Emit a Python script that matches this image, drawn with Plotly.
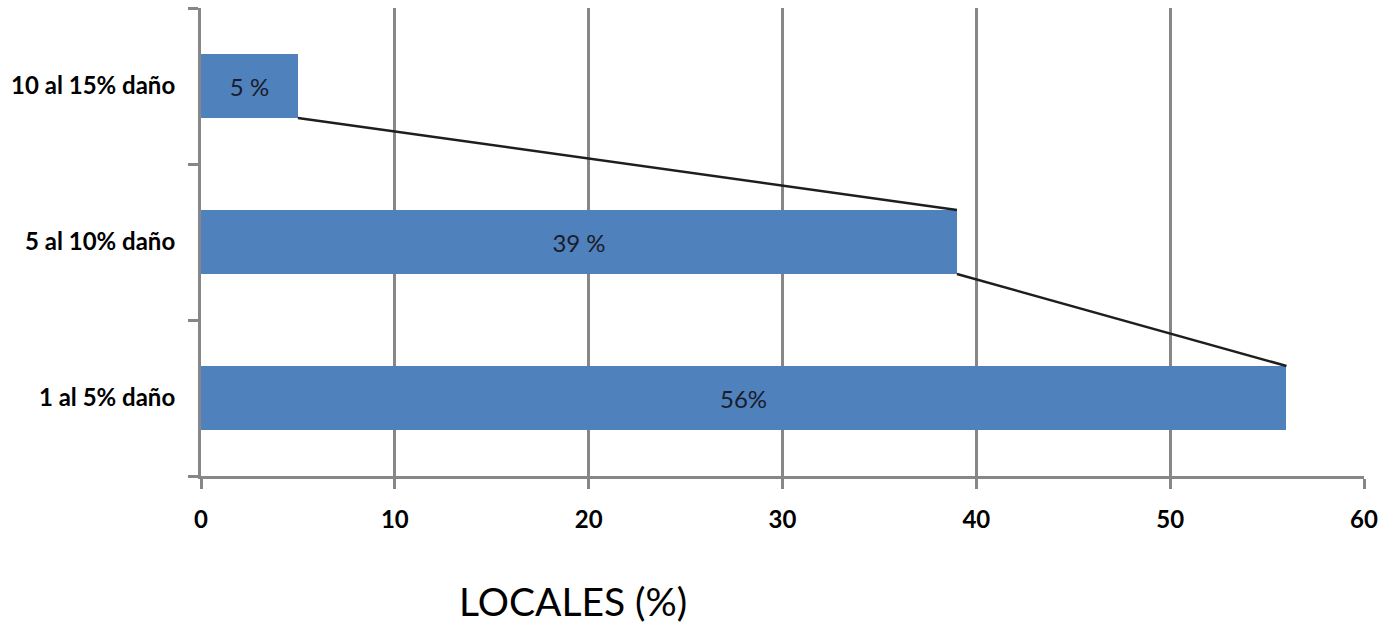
import plotly.graph_objects as go

# Damage ranges (bottom to top) and share of premises in each
categories = ["1 al 5% daño", "5 al 10% daño", "10 al 15% daño"]
values = [56, 39, 5]
value_labels = ["56%", "39 %", "5 %"]
x_ticks = [0, 10, 20, 30, 40, 50, 60]

BAR_COLOR = "#4F81BD"
GRID = "#878787"
BAR_W = 0.41

pos = list(range(len(categories)))

fig = go.Figure()
fig.add_trace(go.Bar(
    x=values, y=pos, orientation="h", width=BAR_W,
    marker=dict(color=BAR_COLOR, line=dict(width=0)),
    text=value_labels, textposition="inside", insidetextanchor="middle",
    textfont=dict(family="Lato", size=24, color="#1b1b2a"),
    hoverinfo="skip", showlegend=False,
))

# Series lines joining the end of each bar to the end of the next one down
sx, sy = [], []
for i in range(len(values) - 1, 0, -1):
    sx += [values[i], values[i - 1], None]
    sy += [pos[i] - BAR_W / 2, pos[i - 1] + BAR_W / 2, None]
fig.add_trace(go.Scatter(
    x=sx, y=sy, mode="lines", line=dict(color="#1e1e1e", width=2.5),
    hoverinfo="skip", showlegend=False,
))

fig.update_layout(
    width=1379, height=627,
    margin=dict(l=201, r=15, t=8, b=151),
    paper_bgcolor="white", plot_bgcolor="white",
    bargap=0,
    xaxis=dict(
        range=[0, 60], tickvals=x_ticks,
        ticktext=[str(v) for v in x_ticks],
        automargin=False,
        showgrid=True, gridcolor=GRID, gridwidth=3,
        zeroline=False, showline=True, linecolor=GRID, linewidth=3,
        ticks="outside", ticklen=10, tickwidth=3, tickcolor=GRID,
        ticklabelstandoff=10,
        tickfont=dict(family="Lato", size=24, color="black", weight="bold"),
    ),
    yaxis=dict(
        range=[-0.5, 2.5], tickvals=pos, ticktext=categories,
        automargin=False,
        showgrid=False, zeroline=False, showline=True,
        linecolor=GRID, linewidth=3, ticks="",
        ticklabelstandoff=18,
        tickfont=dict(family="Lato", size=24, color="black", weight="bold"),
        minor=dict(tickmode="array", tickvals=[-0.5, 0.5, 1.5, 2.5],
                   ticks="outside", ticklen=10, tickwidth=3,
                   tickcolor=GRID, showgrid=False),
    ),
    annotations=[dict(
        text="LOCALES (%)", xref="paper", yref="paper",
        x=0.32, y=-0.267, xanchor="center", yanchor="middle",
        showarrow=False,
        font=dict(family="Lato", size=39, color="black"),
    )],
)

fig.write_html("out.html")
